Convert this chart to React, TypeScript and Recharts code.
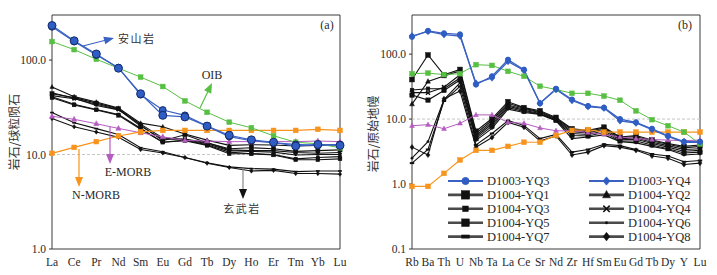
import React from 'react';
import { LineChart, Line, XAxis, YAxis, ReferenceLine, ReferenceArea, Legend } from 'recharts';

// ---------- Panel (a): chondrite-normalised REE ----------
const reeElements = ['La', 'Ce', 'Pr', 'Nd', 'Sm', 'Eu', 'Gd', 'Tb', 'Dy', 'Ho', 'Er', 'Tm', 'Yb', 'Lu'];
const reeAndesiteYQ3 = [232, 160, 116, 82, 44, 26, 25, 20, 16, 14.3, 13.5, 12.3, 12.8, 12.5];
const reeAndesiteYQ4 = [225, 157, 113, 83, 43, 29.6, 26, 20, 15.5, 14, 13.3, 12.8, 12.5, 12.8];
const reeOIB = [157, 129, 102, 82, 66, 52.5, 37, 28, 22, 19.2, 15.8, 13.5, 13, 11.8];
const reeNMORB = [10.3, 11.9, 13.7, 15.7, 17.4, 18, 18, 18, 18, 18, 18, 18, 18.5, 18];
const reeEMORB = [25.4, 23.6, 21.2, 18.9, 17, 15.4, 14.1, 13.9, 13.7, 13.7, 13.7, 13.7, 13.9, 13.7];
const reeBasaltYQ1 = [44, 40, 35, 30.6, 20.5, 14, 16.2, 13.3, 11.5, 11.8, 11.5, 10.8, 11, 11.2];
const reeBasaltYQ2 = [52, 41, 36, 31, 21.5, 19.7, 16.5, 14.2, 12.5, 12.7, 12.6, 12.3, 12.5, 12.7];
const reeBasaltYQ3 = [41, 34, 30, 26.5, 19, 13.5, 14.2, 12.7, 10.6, 10.2, 10, 9, 9.3, 9.5];
const reeBasaltYQ4 = [42, 39, 34, 30, 20, 14.5, 14.6, 13.3, 11.2, 11, 11, 10.5, 10.3, 10.5];
const reeBasaltYQ5 = [40, 33.5, 29.7, 26, 18.5, 13.5, 14, 12.5, 10.2, 10.2, 9.9, 8.8, 8.8, 9];
const reeBasaltYQ6 = [45, 39.5, 33, 29.7, 21, 15, 14.4, 13, 11, 10.8, 10.6, 9.9, 10, 10];
const reeBasaltYQ7 = [27.8, 21.7, 18.8, 16.3, 11.8, 10.7, 9.3, 8.2, 7.4, 7.1, 7.0, 6.6, 6.7, 6.7];
const reeBasaltYQ8 = [24.1, 19.7, 17.3, 15.2, 11.3, 10.4, 9.3, 8.1, 7.3, 6.7, 6.8, 6.3, 6.3, 6.2];
const reeTicks = [1, 10, 100];

// ---------- Panel (b): primitive-mantle-normalised spider ----------
const spiderElements = ['Rb', 'Ba', 'Th', 'U', 'Nb', 'Ta', 'La', 'Ce', 'Sr', 'Nd', 'Zr', 'Hf', 'Sm', 'Eu', 'Gd', 'Tb', 'Dy', 'Y', 'Lu'];
const spAndesiteYQ3 = [185, 228, 209, 201, 34, 45.6, 82, 57.7, 17.5, 29.3, 20, 15.9, 15, 10, 8.9, 7.1, 5.5, 4.5, 4.5];
const spAndesiteYQ4 = [190, 224, 199, 190, 35.6, 43, 77, 56, 17.5, 28.5, 19.3, 15.5, 14.8, 9.4, 8.7, 6.9, 5.4, 4.4, 4.4];
const spOIB = [50, 51, 48.4, 50, 68.8, 67, 54.3, 45.6, 32, 28.6, 24.9, 24.9, 22.6, 19.5, 13.4, 9.8, 7.9, 6.3, 4.15];
const spNMORB = [0.92, 0.92, 1.46, 2.34, 3.3, 3.3, 3.8, 4.4, 4.4, 5.6, 6.7, 6.9, 6.3, 6.3, 6.3, 6.3, 6.3, 6.3, 6.3];
const spEMORB = [7.9, 8.2, 7.1, 8.6, 11.6, 11.6, 8.9, 8.6, 7.3, 6.6, 6.6, 6.2, 5.8, 5.3, 5.0, 4.85, 4.75, 4.65, 4.75];
const spBasaltYQ1 = [40.6, 97, 48, 58, 6.5, 10.2, 18.5, 15, 13.4, 10.6, 7.1, 6.7, 7.5, 5.3, 5.6, 4.75, 4.2, 3.8, 4.0];
const spBasaltYQ2 = [17, 38, 46, 55, 6.0, 9.6, 17.5, 14.6, 13, 10.3, 6.8, 6.4, 7.3, 5.2, 5.4, 4.6, 4.1, 3.6, 3.8];
const spBasaltYQ3 = [28, 29.3, 29.3, 43, 5.6, 9.0, 16.5, 14.2, 12.6, 10, 6.4, 6.1, 7.0, 5.0, 5.1, 4.4, 3.9, 3.4, 3.5];
const spBasaltYQ4 = [25.5, 25.5, 31, 48, 5.3, 8.4, 15.8, 13.6, 12.2, 9.8, 6.0, 5.8, 6.6, 4.8, 4.9, 4.2, 3.7, 3.2, 3.3];
const spBasaltYQ5 = [23.4, 19.6, 27.6, 40, 5.0, 7.8, 15.0, 13.1, 12.0, 9.5, 5.6, 5.5, 6.2, 4.6, 4.6, 4.0, 3.5, 3.0, 3.1];
const spBasaltYQ6 = [2.5, 4.5, 20, 36, 4.7, 7.2, 14.2, 12.6, 11.8, 9.4, 5.0, 5.3, 5.7, 4.5, 4.3, 3.8, 3.4, 2.8, 2.9];
const spBasaltYQ7 = [2.1, 3.4, 19, 32, 4.0, 6.0, 9.5, 8.0, 5.0, 5.8, 3.1, 3.4, 4.1, 3.9, 3.4, 2.9, 2.7, 2.2, 2.3];
const spBasaltYQ8 = [3.7, 2.8, 20.5, 27, 3.7, 5.2, 8.9, 7.5, 4.6, 5.5, 2.8, 3.1, 3.9, 3.7, 3.3, 2.7, 2.5, 2.0, 2.1];
const spTicks = [0.1, 1, 10, 100];

const legendNames = ['D1003-YQ3', 'D1003-YQ4', 'D1004-YQ1', 'D1004-YQ2', 'D1004-YQ3', 'D1004-YQ4', 'D1004-YQ5', 'D1004-YQ6', 'D1004-YQ7', 'D1004-YQ8'];

const reeData = reeElements.map((el, i) => ({
  el,
  a3: reeAndesiteYQ3[i], a4: reeAndesiteYQ4[i], oib: reeOIB[i], nm: reeNMORB[i], em: reeEMORB[i],
  b1: reeBasaltYQ1[i], b2: reeBasaltYQ2[i], b3: reeBasaltYQ3[i], b4: reeBasaltYQ4[i],
  b5: reeBasaltYQ5[i], b6: reeBasaltYQ6[i], b7: reeBasaltYQ7[i], b8: reeBasaltYQ8[i],
}));
const spData = spiderElements.map((el, i) => ({
  el,
  a3: spAndesiteYQ3[i], a4: spAndesiteYQ4[i], oib: spOIB[i], nm: spNMORB[i], em: spEMORB[i],
  b1: spBasaltYQ1[i], b2: spBasaltYQ2[i], b3: spBasaltYQ3[i], b4: spBasaltYQ4[i],
  b5: spBasaltYQ5[i], b6: spBasaltYQ6[i], b7: spBasaltYQ7[i], b8: spBasaltYQ8[i],
}));

const BLUE = '#3a62c2';
const BLUE_DOT = '#2f5dc4';
const GREEN = '#57c043';
const ORANGE = '#f7941d';
const PURPLE = '#b45cbf';
const BLACK = '#111';
const SERIF = 'Liberation Serif, Times New Roman, DejaVu Serif, serif';
const CJK = 'Noto Sans CJK SC, sans-serif';
const TEXT = '#2a2a2a';

type Shape = 'circle' | 'square' | 'triangle' | 'diamond' | 'cross' | 'dash' | 'dot' | 'star';

function Marker({ shape, cx, cy, s, fill, stroke }: { shape: Shape; cx: number; cy: number; s: number; fill: string; stroke: string }) {
  switch (shape) {
    case 'circle':
      return <circle cx={cx} cy={cy} r={s} fill={fill} stroke={stroke} strokeWidth={1} />;
    case 'square':
      return <rect x={cx - s} y={cy - s} width={2 * s} height={2 * s} fill={fill} stroke={stroke} strokeWidth={0.5} />;
    case 'triangle':
      return <polygon points={`${cx},${cy - s * 1.25} ${cx - s * 1.1},${cy + s * 0.8} ${cx + s * 1.1},${cy + s * 0.8}`} fill={fill} stroke={stroke} strokeWidth={0.5} />;
    case 'diamond':
      return <polygon points={`${cx},${cy - s * 1.3} ${cx + s},${cy} ${cx},${cy + s * 1.3} ${cx - s},${cy}`} fill={fill} stroke={stroke} strokeWidth={0.5} />;
    case 'star':
      return <polygon points={`${cx},${cy - s * 1.3} ${cx + s * 1.1},${cy} ${cx},${cy + s * 1.3} ${cx - s * 1.1},${cy}`} fill={fill} stroke={stroke} strokeWidth={0.5} />;
    case 'cross':
      return (
        <g stroke={stroke} strokeWidth={1.5}>
          <line x1={cx - s} y1={cy - s} x2={cx + s} y2={cy + s} />
          <line x1={cx - s} y1={cy + s} x2={cx + s} y2={cy - s} />
        </g>
      );
    case 'dash':
      return <rect x={cx - s} y={cy - s * 0.45} width={2 * s} height={s * 0.9} fill={fill} />;
    case 'dot':
    default:
      return <circle cx={cx} cy={cy} r={s} fill={fill} />;
  }
}

const makeDot = (shape: Shape, s: number, fill: string, stroke: string) => (props: any) => {
  const { cx, cy, index } = props;
  if (cx == null || cy == null || isNaN(cx) || isNaN(cy)) return <g key={`e${index}`} />;
  return <Marker key={`m${index}`} shape={shape} cx={cx} cy={cy} s={s} fill={fill} stroke={stroke} />;
};

type SeriesStyle = { key: string; color: string; width: number; shape: Shape; s: number; fill: string; stroke: string };

const basaltShapes: { key: string; shape: Shape; s: number }[] = [
  { key: 'b1', shape: 'square', s: 2.4 },
  { key: 'b2', shape: 'triangle', s: 2.2 },
  { key: 'b3', shape: 'square', s: 1.8 },
  { key: 'b4', shape: 'cross', s: 2 },
  { key: 'b5', shape: 'square', s: 2.2 },
  { key: 'b6', shape: 'dot', s: 1.4 },
  { key: 'b7', shape: 'dash', s: 2.2 },
  { key: 'b8', shape: 'diamond', s: 2 },
];

const reeStyles: SeriesStyle[] = [
  ...basaltShapes.map((b) => ({ key: b.key, color: BLACK, width: 1.1, shape: b.shape, s: b.s * 0.85, fill: BLACK, stroke: BLACK })),
  { key: 'em', color: PURPLE, width: 1, shape: 'triangle', s: 2.4, fill: PURPLE, stroke: PURPLE },
  { key: 'nm', color: ORANGE, width: 1.2, shape: 'square', s: 2.4, fill: ORANGE, stroke: ORANGE },
  { key: 'oib', color: GREEN, width: 1, shape: 'square', s: 2.4, fill: GREEN, stroke: GREEN },
  { key: 'a4', color: BLUE, width: 1.2, shape: 'circle', s: 3.4, fill: BLUE_DOT, stroke: '#142c6a' },
  { key: 'a3', color: BLUE, width: 1.2, shape: 'circle', s: 4, fill: BLUE_DOT, stroke: '#142c6a' },
];

const spStyles: SeriesStyle[] = [
  ...basaltShapes.map((b) => ({ key: b.key, color: BLACK, width: 1.1, shape: b.shape, s: b.s, fill: BLACK, stroke: BLACK })),
  { key: 'em', color: PURPLE, width: 1, shape: 'triangle', s: 2.2, fill: PURPLE, stroke: PURPLE },
  { key: 'nm', color: ORANGE, width: 1.2, shape: 'square', s: 2.4, fill: ORANGE, stroke: ORANGE },
  { key: 'oib', color: GREEN, width: 1, shape: 'square', s: 2.4, fill: GREEN, stroke: GREEN },
  { key: 'a4', color: BLUE, width: 1.3, shape: 'star', s: 2.6, fill: BLUE_DOT, stroke: BLUE_DOT },
  { key: 'a3', color: BLUE, width: 1.3, shape: 'circle', s: 2.6, fill: BLUE_DOT, stroke: BLUE_DOT },
];

const legendStyles: { shape: Shape; s: number; color: string; lw: number }[] = [
  { shape: 'circle', s: 3.5, color: BLUE, lw: 2 },
  { shape: 'star', s: 3.2, color: BLUE, lw: 2 },
  { shape: 'square', s: 4.2, color: '#4a4a4a', lw: 2.6 },
  { shape: 'triangle', s: 3.6, color: '#4a4a4a', lw: 2.6 },
  { shape: 'square', s: 2.8, color: '#4a4a4a', lw: 2.6 },
  { shape: 'cross', s: 3.2, color: '#4a4a4a', lw: 2.6 },
  { shape: 'square', s: 3.8, color: '#4a4a4a', lw: 2.6 },
  { shape: 'dot', s: 1.5, color: '#4a4a4a', lw: 2.6 },
  { shape: 'dash', s: 4.2, color: '#4a4a4a', lw: 2.6 },
  { shape: 'diamond', s: 3.3, color: '#4a4a4a', lw: 2.6 },
];

function LegendBox() {
  return (
    <svg width={290} height={76} style={{ display: 'block' }}>
      {legendNames.map((name, i) => {
        const col = i % 2;
        const row = Math.floor(i / 2);
        const x0 = col === 0 ? 8 : 149;
        const y = 9 + row * 13.9;
        const st = legendStyles[i];
        const mk = st.color === BLUE ? BLUE_DOT : BLACK;
        return (
          <g key={name}>
            <line x1={x0} y1={y} x2={x0 + 35} y2={y} stroke={st.color} strokeWidth={st.lw} />
            <Marker shape={st.shape} cx={x0 + 17.5} cy={y} s={st.s} fill={mk} stroke={mk} />
            <text x={x0 + 39} y={y + 4.3} style={{ fontFamily: SERIF }} fontSize={12.5} fill={TEXT}>{name}</text>
          </g>
        );
      })}
    </svg>
  );
}

const xTickStyle = { fontFamily: SERIF, fontSize: 11.5, fill: TEXT, style: { fontFamily: SERIF } };
const yTickStyle = { fontFamily: SERIF, fontSize: 11.5, fill: TEXT, style: { fontFamily: SERIF } };
const fmt = (v: number) => v.toFixed(1);

function Arrow({ x1, y1, x2, y2, color, head, w = 1.2, hl = 10, hw = 7 }: any) {
  const dx = x2 - x1, dy = y2 - y1;
  const len = Math.sqrt(dx * dx + dy * dy);
  const ux = dx / len, uy = dy / len;
  const bx = x2 - ux * hl, by = y2 - uy * hl;
  const px = -uy * hw / 2, py = ux * hw / 2;
  return (
    <g>
      <line x1={x1} y1={y1} x2={bx + ux * 2} y2={by + uy * 2} stroke={color} strokeWidth={w} />
      <polygon points={`${x2},${y2} ${bx + px},${by + py} ${bx - px},${by - py}`} fill={head || color} />
    </g>
  );
}

const serifText = { fontFamily: SERIF };
const cjkText = { fontFamily: CJK };

export default function App() {
  return (
    <div style={{ position: 'absolute', left: 0, top: 0, width: 717, height: 275, background: '#fff', overflow: 'hidden', fontFamily: SERIF }}>
      <div style={{ position: 'absolute', left: 0, top: 0 }}>
        <LineChart width={360} height={275} data={reeData} margin={{ top: 15, right: 20, bottom: 0, left: 0 }}>
          <XAxis dataKey="el" scale="point" padding={{ left: 0, right: 0 }} axisLine={false} tickLine={false} tickSize={0} tickMargin={9} height={26} tick={xTickStyle} interval={0} />
          <YAxis scale="log" domain={[1, 300]} ticks={reeTicks} allowDataOverflow width={52} axisLine={false} tickSize={3} tickMargin={3} tick={yTickStyle} tickFormatter={fmt} stroke="#333" />
          <ReferenceLine y={10} stroke="#c4c4c4" strokeDasharray="3 2" />
          <ReferenceArea x1="La" x2="Lu" y1={1} y2={300} fill="none" stroke="#3a3a3a" strokeWidth={1} ifOverflow="visible" />
          {reeStyles.map((st) => (
            <Line key={st.key} type="linear" dataKey={st.key} stroke={st.color} strokeWidth={st.width} dot={makeDot(st.shape, st.s, st.fill, st.stroke)} activeDot={false} isAnimationActive={false} />
          ))}
        </LineChart>
      </div>
      <div style={{ position: 'absolute', left: 360, top: 0 }}>
        <LineChart width={357} height={275} data={spData} margin={{ top: 15, right: 17, bottom: 0, left: 0 }}>
          <XAxis dataKey="el" scale="point" padding={{ left: 0, right: 0 }} axisLine={false} tickLine={false} tickSize={0} tickMargin={9} height={26} tick={xTickStyle} interval={0} />
          <YAxis scale="log" domain={[0.1, 400]} ticks={spTicks} allowDataOverflow width={52} axisLine={false} tickSize={3} tickMargin={3} tick={yTickStyle} tickFormatter={fmt} stroke="#333" />
          <ReferenceLine y={10} stroke="#c4c4c4" strokeDasharray="3 2" />
          <ReferenceArea x1="Rb" x2="Lu" y1={0.1} y2={400} fill="none" stroke="#3a3a3a" strokeWidth={1} ifOverflow="visible" />
          {spStyles.map((st) => (
            <Line key={st.key} type="linear" dataKey={st.key} stroke={st.color} strokeWidth={st.width} dot={makeDot(st.shape, st.s, st.fill, st.stroke)} activeDot={false} isAnimationActive={false} />
          ))}
          <Legend layout="vertical" align="center" verticalAlign="middle" content={() => <LegendBox />} wrapperStyle={{ position: 'absolute', left: 80, top: 172, width: 290, height: 76 }} />
        </LineChart>
      </div>
      <svg width={717} height={275} style={{ position: 'absolute', left: 0, top: 0, pointerEvents: 'none' }}>
        {/* Panel (a) annotations */}
        <text x={327} y={29} textAnchor="middle" style={serifText} fontSize={12} fill={TEXT}>(a)</text>
        <Arrow x1={83} y1={46} x2={114} y2={38} color={BLUE} hl={10} hw={8} />
        <text x={118} y={43} style={cjkText} fontSize={11} letterSpacing={1.5} fill="#333">安山岩</text>
        <text x={212} y={79} textAnchor="middle" style={serifText} fontSize={12} fill={TEXT}>OIB</text>
        <Arrow x1={200} y1={108} x2={212} y2={83} color={GREEN} hl={10} hw={8} />
        <Arrow x1={110} y1={127} x2={110} y2={164} color={PURPLE} hl={10} hw={8} />
        <text x={128} y={176} textAnchor="middle" style={serifText} fontSize={12} fill={TEXT}>E-MORB</text>
        <Arrow x1={79} y1={149} x2={79} y2={187} color={ORANGE} hl={10} hw={8} />
        <text x={96} y={199} textAnchor="middle" style={serifText} fontSize={12} fill={TEXT}>N-MORB</text>
        <Arrow x1={243} y1={168} x2={243} y2={199} color="#888" head="#111" hl={10} hw={8} />
        <text x={242} y={213} textAnchor="middle" style={cjkText} fontSize={11} letterSpacing={1.5} fill="#333">玄武岩</text>
        <text transform="translate(19,132) rotate(-90)" textAnchor="middle" style={cjkText} fontSize={12} fill="#333">岩石/球粒陨石</text>
        {/* Panel (b) annotations */}
        <text x={685} y={29} textAnchor="middle" style={serifText} fontSize={12} fill={TEXT}>(b)</text>
        <text transform="translate(378,134) rotate(-90)" textAnchor="middle" style={cjkText} fontSize={12} fill="#333">岩石/原始地幔</text>
      </svg>
    </div>
  );
}
